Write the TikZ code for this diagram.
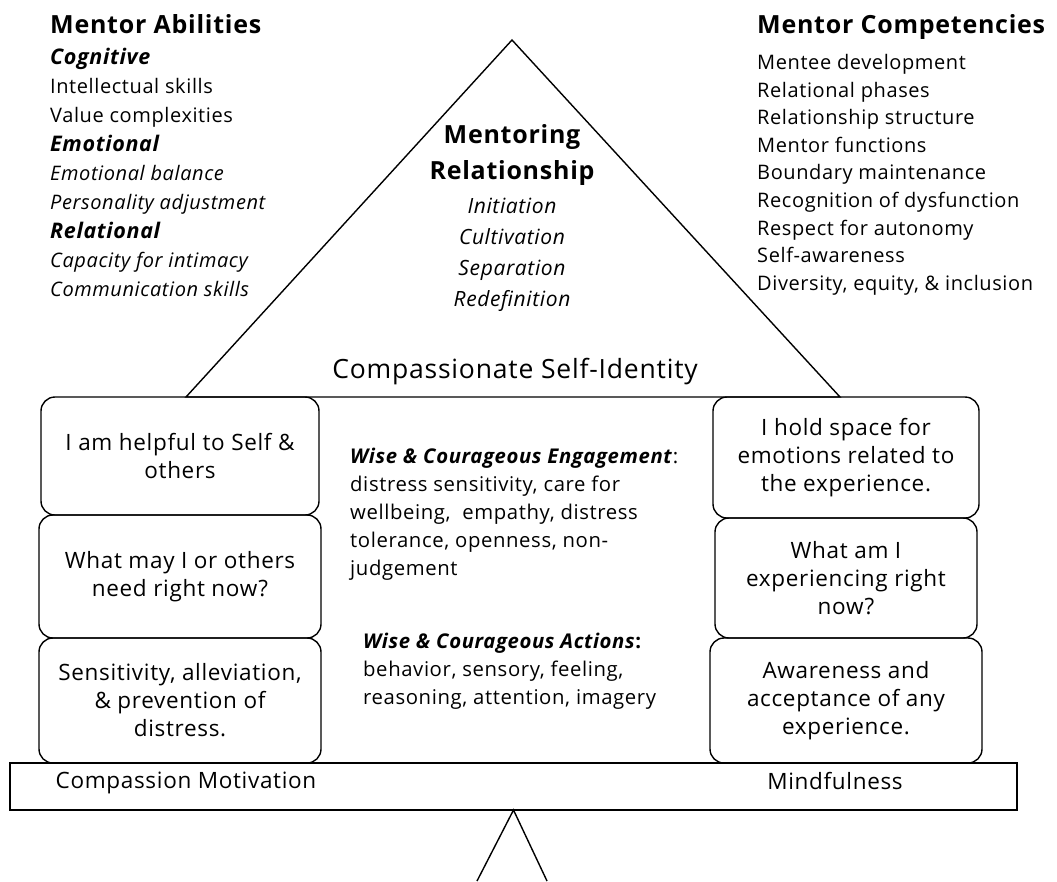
\documentclass[tikz,border=0pt]{standalone}
\usepackage{fontspec}
\setmainfont[LetterSpace=3]{Open Sans}
\usetikzlibrary{positioning}
\tikzset{
    %Define style for the stacked boxes
    blok/.style={
           rectangle,
           rounded corners=14pt,
           draw=black, line width=1.4pt,
           inner sep=0pt, outer sep=0pt,
           align=center,
           font=\fontsize{22.5}{28}\selectfont},
    %Define style for headings
    kop/.style={
           anchor=west, inner sep=0pt,
           font=\fontsize{25}{28}\selectfont\bfseries},
    %Define style for plain lists
    lijst/.style={
           anchor=north west, inner sep=0pt, align=left,
           font=\fontsize{20}{29}\selectfont},
    % Define style for the middle notes
    noot/.style={
           anchor=north west, inner sep=0pt, align=left,
           font=\fontsize{20.3}{28}\selectfont},
    lijn/.style={line width=1.4pt, line join=miter}
}

\begin{document}
\begin{tikzpicture}[x=1pt, y=-1pt]
\useasboundingbox (0,0) rectangle (1057,881);
% roof
\coordinate (top) at (512,40);
\coordinate (dl) at (186,397);
\coordinate (dr) at (840,397);
\draw[lijn] (dl) -- (top) -- (dr) -- cycle;
\node[font=\fontsize{25}{36}\selectfont\bfseries, align=center](mr) at (512,155)
  {Mentoring\\Relationship};
\node[font=\fontsize{21}{31}\selectfont\itshape, align=center, below=6pt of mr](fasen)
  {Initiation\\Cultivation\\Separation\\Redefinition};
\node[font=\fontsize{26.5}{28}\selectfont](csi) at (515,372){Compassionate Self-Identity};
% left column
\node[blok, minimum width=278pt, minimum height=118pt](lb1) at (180,456)
  {I am helpful to Self \&\\others};
\node[blok, minimum width=282pt, minimum height=123pt, below=0pt of lb1](lb2)
  {What may I or others\\need right now?};
\node[blok, minimum width=282pt, minimum height=125pt, below=0pt of lb2](lb3)
  {Sensitivity, alleviation,\\\& prevention of\\distress.};
% right column
\node[blok, minimum width=266pt, minimum height=121pt](rb1) at (846,457.5)
  {I hold space for\\emotions related to\\the experience.};
\node[blok, minimum width=262pt, minimum height=120pt, below=0pt of rb1](rb2)
  {What am I\\experiencing right\\now?};
\node[blok, minimum width=272pt, minimum height=125pt, below=0pt of rb2](rb3)
  {Awareness and\\acceptance of any\\experience.};
% middle notes
\node[noot](eng) at (350,448)
  {\textbf{\textit{Wise \& Courageous Engagement}}:\\
   distress sensitivity, care for\\
   wellbeing,\ \ empathy, distress\\
   tolerance, openness, non-\\
   judgement};
\node[noot](act) at (363,633)
  {\textbf{\textit{Wise \& Courageous Actions}:}\\
   behavior, sensory, feeling,\\
   reasoning, attention, imagery};
% beam and pivot
\node[draw, lijn, rectangle, inner sep=0pt, outer sep=0pt,
      minimum width=1007pt, minimum height=47pt](plank) at (513.5,786.5){};
\node[font=\fontsize{22.5}{28}\selectfont](cm) at (186,783){Compassion Motivation};
\node[font=\fontsize{22.5}{28}\selectfont](mf) at (835,781){Mindfulness};
\coordinate (vl) at (477,881);
\coordinate (vr) at (547,881);
\draw[lijn] (vl) -- (plank.south) -- (vr);
% abilities
\node[kop](ab) at (50,24){Mentor Abilities};
\node[lijst](abl) at (50,48)
  {\textbf{\textit{\fontsize{21.5}{29}\selectfont Cognitive}}\\
   Intellectual skills\\
   Value complexities\\
   \textbf{\textit{\fontsize{21.5}{29}\selectfont Emotional}}\\
   \textit{Emotional balance}\\
   \textit{Personality adjustment}\\
   \textbf{\textit{\fontsize{21.5}{29}\selectfont Relational}}\\
   \textit{Capacity for intimacy}\\
   \textit{Communication skills}};
% competencies
\node[kop](co) at (757,27){Mentor Competencies};
\node[lijst, font=\fontsize{20}{27.6}\selectfont](col) at (757,54)
  {Mentee development\\
   Relational phases\\
   Relationship structure\\
   Mentor functions\\
   Boundary maintenance\\
   Recognition of dysfunction\\
   Respect for autonomy\\
   Self-awareness\\
   Diversity, equity, \& inclusion};
\end{tikzpicture}
\end{document}
